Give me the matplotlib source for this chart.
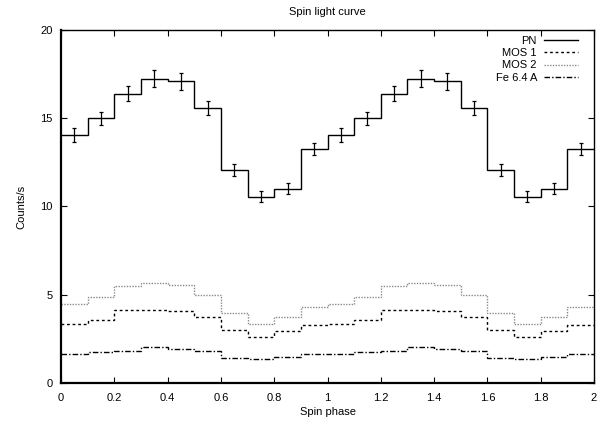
#!/usr/bin/env python3
"""Spin light curve, gnuplot-style step plot."""

import matplotlib

matplotlib.use("Agg")

import matplotlib.pyplot as plt

# phase bin edges (0.1 wide, two cycles)
BIN_EDGES = [round(0.1 * i, 1) for i in range(21)]
PHASE_CENTERS = [round(0.05 + 0.1 * i, 2) for i in range(20)]

PN = [14.05, 15.0, 16.4, 17.25, 17.1, 15.6, 12.05, 10.55, 11.0, 13.25,
      14.05, 15.0, 16.4, 17.25, 17.1, 15.6, 12.05, 10.55, 11.0, 13.25]
PN_ERR = [0.38, 0.38, 0.45, 0.5, 0.48, 0.4, 0.35, 0.3, 0.32, 0.36,
          0.38, 0.38, 0.45, 0.5, 0.48, 0.4, 0.35, 0.3, 0.32, 0.36]
MOS1 = [3.37, 3.56, 4.11, 4.11, 4.07, 3.75, 2.99, 2.61, 2.92, 3.26,
        3.37, 3.56, 4.11, 4.11, 4.07, 3.75, 2.99, 2.61, 2.92, 3.26]
MOS2 = [4.49, 4.85, 5.51, 5.68, 5.53, 4.98, 3.98, 3.37, 3.75, 4.28,
        4.49, 4.85, 5.51, 5.68, 5.53, 4.98, 3.98, 3.37, 3.75, 4.28]
FE = [1.65, 1.76, 1.84, 2.03, 1.91, 1.80, 1.42, 1.35, 1.46, 1.65,
      1.65, 1.76, 1.84, 2.03, 1.91, 1.80, 1.42, 1.35, 1.46, 1.65]

X_TICKS = [0, 0.2, 0.4, 0.6, 0.8, 1, 1.2, 1.4, 1.6, 1.8, 2]
X_TICK_LABELS = ["0", "0.2", "0.4", "0.6", "0.8", "1", "1.2", "1.4", "1.6", "1.8", "2"]
Y_TICKS = [0, 5, 10, 15, 20]

plt.rcParams["font.family"] = ["Liberation Sans", "DejaVu Sans"]
plt.rcParams["font.size"] = 8


fig = plt.figure(figsize=(6.03, 4.21), dpi=100)
ax = fig.add_axes([61 / 603, 1 - 383 / 421, (594 - 61) / 603, (383 - 30) / 421])

ax.stairs(PN, BIN_EDGES, color="black", linewidth=1.0, label="PN", baseline=None)
ax.errorbar(PHASE_CENTERS, PN, yerr=PN_ERR, fmt="none", ecolor="black",
            elinewidth=0.9, capsize=1.5, capthick=0.9)
ax.stairs(MOS1, BIN_EDGES, color="black", linewidth=1.0, linestyle=(0, (2.0, 2.0)),
          label="MOS 1", baseline=None)
ax.stairs(MOS2, BIN_EDGES, color="#8a8a8a", linewidth=1.0, linestyle=(0, (1.0, 1.0)),
          label="MOS 2", baseline=None)
ax.stairs(FE, BIN_EDGES, color="black", linewidth=1.0, linestyle=(0, (4.0, 1.5, 1.0, 1.5)),
          label="Fe 6.4 A", baseline=None)

ax.set_xlim(0, 2)
ax.set_ylim(0, 20)
ax.set_xticks(X_TICKS)
ax.set_xticklabels(X_TICK_LABELS)
ax.set_yticks(Y_TICKS)
ax.tick_params(direction="in", top=True, right=True, length=4, width=0.8)
ax.tick_params(axis="x", pad=7)
ax.tick_params(axis="y", pad=6)

for side in ("left", "bottom"):
    ax.spines[side].set_linewidth(1.6)
for side in ("top", "right"):
    ax.spines[side].set_linewidth(1.0)

ax.set_title("Spin light curve", fontsize=8, pad=11)
ax.set_xlabel("Spin phase", labelpad=3)
ax.set_ylabel("Counts/s", labelpad=10)

leg = ax.legend(loc="upper right", bbox_to_anchor=(0.970, 0.983), borderaxespad=0,
                borderpad=0, frameon=False, markerfirst=False, handlelength=3.05,
                handletextpad=0.65, labelspacing=0.2, fontsize=8)
for text in leg.get_texts():
    text.set_ha("right")

fig.savefig("out.png", dpi=100)
